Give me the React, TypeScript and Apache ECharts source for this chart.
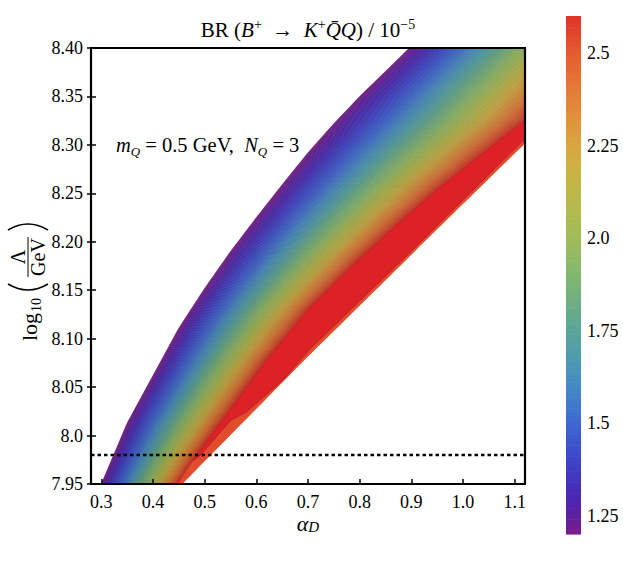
import React, { useEffect, useRef } from 'react';
import * as echarts from 'echarts';

// ---- axes ----
const X_MIN = 0.28;
const X_MAX = 1.12;
const Y_MIN = 7.95;
const Y_MAX = 8.4;
const X_TICKS = [0.3, 0.4, 0.5, 0.6, 0.7, 0.8, 0.9, 1.0, 1.1];
const X_TICK_LABELS = ['0.3', '0.4', '0.5', '0.6', '0.7', '0.8', '0.9', '1.0', '1.1'];
const Y_TICKS = [7.95, 8.0, 8.05, 8.1, 8.15, 8.2, 8.25, 8.3, 8.35, 8.4];
const Y_TICK_LABELS = ['7.95', '8.0', '8.05', '8.10', '8.15', '8.20', '8.25', '8.30', '8.35', '8.40'];
const CB_MIN = 1.2;
const CB_MAX = 2.6;
const CB_TICKS = [1.25, 1.5, 1.75, 2.0, 2.25, 2.5];
const CB_TICK_LABELS = ['1.25', '1.5', '1.75', '2.0', '2.25', '2.5'];

// ---- contour geometry (alpha_D, log10 Lambda) ----
// upper-left edge of the filled region (BR = 1.2)
const EDGE_A = [0.27, 0.3, 0.35, 0.4, 0.45, 0.5, 0.55, 0.6, 0.65, 0.7, 0.75, 0.8, 0.85, 0.9, 0.93];
const EDGE_L = [7.912, 7.95, 8.013, 8.062, 8.111, 8.152, 8.19, 8.225, 8.259, 8.292, 8.322, 8.35, 8.376, 8.402, 8.418];
// top level (BR = 2.6) line: upper-left border of the saturated red zone
const PEAK_A = [0.43, 0.477, 0.55, 0.62, 0.703, 0.785, 0.87, 0.95, 1.03, 1.121, 1.27];
const PEAK_L = [7.935, 7.974, 8.027, 8.078, 8.132, 8.175, 8.217, 8.254, 8.288, 8.326, 8.41];
// lower-right border of the saturated red zone
const LOW_A = [0.477, 0.492, 0.551, 0.58, 0.651, 0.703, 0.876, 1.121, 1.2];
const LOW_L = [7.974, 7.98, 8.016, 8.024, 8.057, 8.089, 8.178, 8.307, 8.35];
// outer lower-right edge of the filled region
const OUTER_A = [0.42, 0.453, 0.695, 0.882, 0.929, 1.121, 1.2];
const OUTER_L = [7.93, 7.948, 8.079, 8.177, 8.202, 8.302, 8.344];
// where the BR levels sit between the edge (0) and the top-level line (1)
const LEVEL_VALS = [1.2, 1.5, 1.75, 2.0, 2.25, 2.45, 2.6];
const LEVEL_FRACS = [0, 0.27, 0.46, 0.64, 0.8, 0.92, 1.0];
const LEVEL_COUNT = 140;

const THRESHOLD_L = 7.98;

// ---- colour map ----
const CMAP_VALS = [1.2, 1.25, 1.3, 1.35, 1.4, 1.5, 1.6, 1.7, 1.75, 1.8, 1.9, 2.0, 2.1, 2.2, 2.25, 2.3, 2.4, 2.5, 2.6];
const CMAP_COLS = ['#7b1c8b', '#5f1f9f', '#4b27b3', '#4334c0', '#3e45c9', '#3d68d1', '#458ac6', '#529eaa', '#5aa59a', '#66ab8a', '#82b770', '#a0bc5a', '#b9ba4a', '#cfb042', '#d8a640', '#df983c', '#e57c36', '#e45c2f', '#df3429'];
const RED_FILL = '#dc2127';
const ORANGE_FILL = '#e14c2c';

function hexRgb(h: string) {
  return [parseInt(h.slice(1, 3), 16), parseInt(h.slice(3, 5), 16), parseInt(h.slice(5, 7), 16)];
}
function cmap(v: number, k = 1) {
  const x = Math.min(CMAP_VALS[CMAP_VALS.length - 1], Math.max(CMAP_VALS[0], v));
  let i = 0;
  while (i < CMAP_VALS.length - 2 && x > CMAP_VALS[i + 1]) i++;
  const t = (x - CMAP_VALS[i]) / (CMAP_VALS[i + 1] - CMAP_VALS[i]);
  const a = hexRgb(CMAP_COLS[i]);
  const b = hexRgb(CMAP_COLS[i + 1]);
  const c = a.map((u, j) => Math.round((u + t * (b[j] - u)) * k));
  return `rgb(${c[0]},${c[1]},${c[2]})`;
}
function interp(xs: number[], ys: number[], x: number) {
  const n = xs.length;
  let i = 0;
  if (x >= xs[n - 1]) i = n - 2;
  else if (x > xs[0]) {
    while (i < n - 2 && x > xs[i + 1]) i++;
  }
  const t = (x - xs[i]) / (xs[i + 1] - xs[i]);
  return ys[i] + t * (ys[i + 1] - ys[i]);
}
function lookup(ticks: number[], labels: string[], v: number) {
  const i = ticks.findIndex((t) => Math.abs(t - v) < 1e-6);
  return i >= 0 ? labels[i] : '';
}

const L_SAMPLES: number[] = [];
for (let i = 0; i <= 100; i++) L_SAMPLES.push(7.92 + i * 0.005);

const levelStep = (CB_MAX - CB_MIN) / LEVEL_COUNT;
const LEVEL_IDX = Array.from({ length: LEVEL_COUNT }, (_, k) => [k]);

const SERIF = 'Liberation Serif';
const tickFont = { fontFamily: SERIF, fontSize: 18, color: '#000' };

function buildOption() {
  const rainbowRender = (params: any, api: any) => {
    const k = api.value(0);
    const v0 = CB_MIN + k * levelStep;
    const v1 = v0 + levelStep;
    const t0 = interp(LEVEL_VALS, LEVEL_FRACS, v0);
    const t1 = interp(LEVEL_VALS, LEVEL_FRACS, v1);
    const pts: number[][] = [];
    for (const L of L_SAMPLES) {
      const aE = interp(EDGE_L, EDGE_A, L);
      const aP = interp(PEAK_L, PEAK_A, L);
      pts.push(api.coord([aE + t0 * (aP - aE), L]));
    }
    for (let i = L_SAMPLES.length - 1; i >= 0; i--) {
      const L = L_SAMPLES[i];
      const aE = interp(EDGE_L, EDGE_A, L);
      const aP = interp(PEAK_L, PEAK_A, L);
      pts.push(api.coord([aE + t1 * (aP - aE), L]));
    }
    const mid = (v0 + v1) / 2;
    return {
      type: 'polygon',
      shape: { points: pts },
      style: { fill: cmap(mid, 0.96), stroke: cmap(mid, 0.8), lineWidth: 0.45 },
    };
  };

  const orangeRender = (params: any, api: any) => {
    const pts: number[][] = [];
    for (const L of L_SAMPLES) pts.push(api.coord([interp(PEAK_L, PEAK_A, L), L]));
    for (let i = L_SAMPLES.length - 1; i >= 0; i--) {
      const L = L_SAMPLES[i];
      pts.push(api.coord([interp(OUTER_L, OUTER_A, L), L]));
    }
    return { type: 'polygon', shape: { points: pts }, style: { fill: ORANGE_FILL } };
  };

  const redRender = (params: any, api: any) => {
    const pts: number[][] = [];
    PEAK_A.forEach((a, i) => {
      if (a >= LOW_A[0]) pts.push(api.coord([a, PEAK_L[i]]));
    });
    for (let i = LOW_A.length - 1; i >= 0; i--) pts.push(api.coord([LOW_A[i], LOW_L[i]]));
    return {
      type: 'polygon',
      shape: { points: pts },
      style: { fill: RED_FILL, stroke: '#ae1b20', lineWidth: 0.8 },
    };
  };

  const cbRender = (params: any, api: any) => {
    const k = api.value(0);
    const v0 = CB_MIN + k * levelStep;
    const v1 = v0 + levelStep;
    const p0 = api.coord([0, v1]);
    const p1 = api.coord([1, v0]);
    return {
      type: 'rect',
      shape: { x: p0[0], y: p0[1], width: p1[0] - p0[0], height: p1[1] - p0[1] + 0.6 },
      style: { fill: cmap((v0 + v1) / 2) },
    };
  };

  const mkRich = (fs: number, sfs: number, lh: number) => ({
    r: { fontFamily: SERIF, fontSize: fs, color: '#000', lineHeight: lh },
    i: { fontFamily: SERIF, fontSize: fs, fontStyle: 'italic', color: '#000', lineHeight: lh },
    s: { fontFamily: SERIF, fontSize: sfs, color: '#000', verticalAlign: 'top', lineHeight: lh },
    sb: { fontFamily: SERIF, fontSize: sfs, fontStyle: 'italic', color: '#000', verticalAlign: 'bottom', lineHeight: lh },
  });

  const txt = (text: string, x: number, y: number, fs: number, align = 'left') => ({
    type: 'text', x, y,
    style: { text, font: `${fs}px "${SERIF}"`, fill: '#000', align, verticalAlign: 'middle', textAlign: align, textVerticalAlign: 'middle' },
  });

  const yLabelChildren: any[] = [
    txt('log', -70, 0, 22),
    txt('10', -41, 7, 14),
    { type: 'bezierCurve', shape: { x1: -13, y1: -21, x2: -13, y2: 19, cpx1: -25, cpy1: -1 }, style: { stroke: '#000', lineWidth: 1.7, fill: null } },
    txt('Λ', 14, -11, 20, 'center'),
    { type: 'line', shape: { x1: -6, y1: -1, x2: 34, y2: -1 }, style: { stroke: '#000', lineWidth: 1 } },
    txt('GeV', 14, 9, 20, 'center'),
    { type: 'bezierCurve', shape: { x1: 41, y1: -21, x2: 41, y2: 19, cpx1: 53, cpy1: -1 }, style: { stroke: '#000', lineWidth: 1.7, fill: null } },
  ];

  return {
    animation: false,
    grid: [
      { left: 91, top: 48, width: 434, height: 436, show: false },
      { left: 566, top: 16, width: 15, height: 518, show: false },
    ],
    xAxis: [
      {
        gridIndex: 0, type: 'value', min: X_MIN, max: X_MAX, position: 'bottom', z: 10,
        axisLine: { show: true, onZero: false, lineStyle: { color: '#000', width: 2.2 } },
        axisTick: { show: true, inside: true, length: 5, customValues: X_TICKS, lineStyle: { color: '#000', width: 1.5 } },
        axisLabel: { show: true, customValues: X_TICKS, margin: 9, ...tickFont, formatter: (v: number) => lookup(X_TICKS, X_TICK_LABELS, v) },
        splitLine: { show: false },
      },
      {
        gridIndex: 0, type: 'value', min: X_MIN, max: X_MAX, position: 'top', z: 10,
        axisLine: { show: true, onZero: false, lineStyle: { color: '#000', width: 2.2 } },
        axisTick: { show: false }, axisLabel: { show: false }, splitLine: { show: false },
      },
      { gridIndex: 1, type: 'value', min: 0, max: 1, show: false },
    ],
    yAxis: [
      {
        gridIndex: 0, type: 'value', min: Y_MIN, max: Y_MAX, position: 'left', z: 10,
        axisLine: { show: true, onZero: false, lineStyle: { color: '#000', width: 2.2 } },
        axisTick: { show: true, inside: true, length: 5, customValues: Y_TICKS, lineStyle: { color: '#000', width: 1.5 } },
        axisLabel: { show: true, customValues: Y_TICKS, margin: 8, ...tickFont, formatter: (v: number) => lookup(Y_TICKS, Y_TICK_LABELS, v) },
        splitLine: { show: false },
      },
      {
        gridIndex: 0, type: 'value', min: Y_MIN, max: Y_MAX, position: 'right', z: 10,
        axisLine: { show: true, onZero: false, lineStyle: { color: '#000', width: 2.2 } },
        axisTick: { show: false }, axisLabel: { show: false }, splitLine: { show: false },
      },
      {
        gridIndex: 0, type: 'value', min: Y_MIN, max: Y_MAX, position: 'left', z: 10,
        axisLine: { show: false },
        axisTick: { show: true, inside: false, length: 4, customValues: Y_TICKS, lineStyle: { color: '#000', width: 1.5 } },
        axisLabel: { show: false }, splitLine: { show: false },
      },
      {
        gridIndex: 1, type: 'value', min: CB_MIN, max: CB_MAX, position: 'right',
        axisLine: { show: false },
        axisTick: { show: true, length: 4, customValues: CB_TICKS, lineStyle: { color: '#aaa', width: 1 } },
        axisLabel: { show: true, customValues: CB_TICKS, margin: 6, ...tickFont, formatter: (v: number) => lookup(CB_TICKS, CB_TICK_LABELS, v) },
        splitLine: { show: false },
      },
    ],
    series: [
      { type: 'custom', xAxisIndex: 0, yAxisIndex: 0, clip: true, silent: true, z: 2, data: [[0]], renderItem: orangeRender },
      { type: 'custom', xAxisIndex: 0, yAxisIndex: 0, clip: true, silent: true, z: 3, data: [[0]], renderItem: redRender },
      { type: 'custom', xAxisIndex: 0, yAxisIndex: 0, clip: true, silent: true, z: 4, data: LEVEL_IDX, renderItem: rainbowRender },
      {
        type: 'line', xAxisIndex: 0, yAxisIndex: 0, silent: true, z: 6, symbol: 'none',
        data: [[X_MIN, THRESHOLD_L], [X_MAX, THRESHOLD_L]],
        lineStyle: { color: '#000', width: 2.5, type: [3.5, 3] },
      },
      { type: 'custom', xAxisIndex: 2, yAxisIndex: 3, silent: true, z: 2, data: LEVEL_IDX, renderItem: cbRender },
    ],
    graphic: [
      {
        type: 'text', x: 308, y: 30, z: 20,
        style: {
          text: '{r|BR }{r|(}{i|B}{s|+}{r|  →  }{i|K}{s|+}{i|Q̄Q}{r|) / 10}{s|−5}',
          rich: mkRich(21, 14, 26), align: 'center', verticalAlign: 'middle', textAlign: 'center', textVerticalAlign: 'middle',
        },
      },
      {
        type: 'text', x: 116, y: 145, z: 20,
        style: {
          text: '{i|m}{sb|Q}{r| = 0.5 GeV,  }{i|N}{sb|Q}{r| = 3}',
          rich: mkRich(20.5, 13, 26), align: 'left', verticalAlign: 'middle', textAlign: 'left', textVerticalAlign: 'middle',
        },
      },
      {
        type: 'text', x: 308, y: 523, z: 20,
        style: {
          text: '{i|α}{sb|D}',
          rich: mkRich(22, 15, 22),
          align: 'center', verticalAlign: 'middle', textAlign: 'center', textVerticalAlign: 'middle',
        },
      },
      { type: 'group', x: 29, y: 271, rotation: Math.PI / 2, z: 20, children: yLabelChildren },
    ],
  };
}

export default function App() {
  const ref = useRef<HTMLDivElement>(null);
  useEffect(() => {
    if (!ref.current) return;
    const chart = echarts.init(ref.current, null, { renderer: 'svg' });
    chart.setOption(buildOption() as any);
    return () => chart.dispose();
  }, []);
  return <div ref={ref} style={{ position: 'absolute', left: 0, top: 0, width: 623, height: 562, background: '#fff' }} />;
}
